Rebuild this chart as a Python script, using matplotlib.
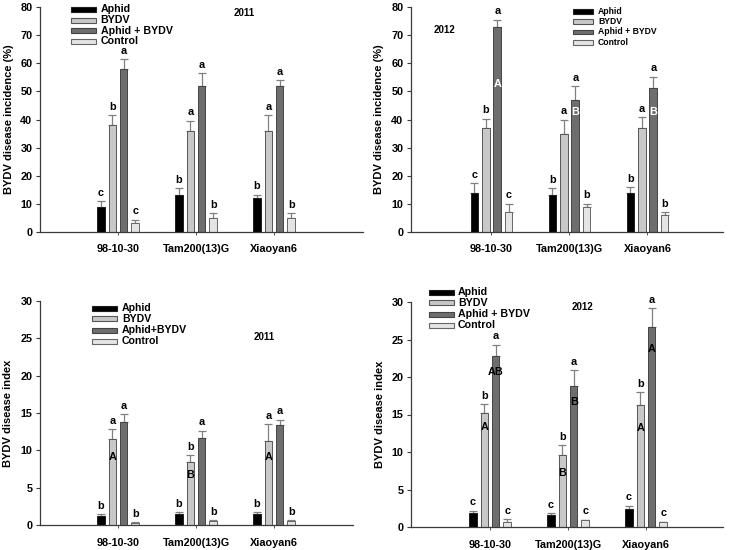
import matplotlib
matplotlib.use('Agg')
import matplotlib.pyplot as plt
from matplotlib.patches import Rectangle
import numpy as np

plt.rcParams['font.family'] = ['Liberation Sans', 'DejaVu Sans']
plt.rcParams['font.weight'] = 'bold'

W, H = 729, 550

cultivars = ['98-10-30', 'Tam200(13)G', 'Xiaoyan6']
treat_legend_a = ['Aphid', 'BYDV', 'Aphid + BYDV', 'Control']
treat_legend_c = ['Aphid', 'BYDV', 'Aphid+BYDV', 'Control']

# rows: Aphid, BYDV, Aphid+BYDV, Control ; columns: cultivars
inc2011_mean = [[9.0, 13.0, 12.1], [38.0, 36.0, 36.0], [58.0, 52.0, 52.0], [3.1, 5.0, 5.0]]
inc2011_top = [[10.9, 15.6, 13.3], [41.5, 39.5, 41.6], [61.4, 56.5, 54.0], [4.3, 6.75, 6.75]]
inc2011_letters = [['c', 'b', 'b'], ['b', 'a', 'a'], ['a', 'a', 'a'], ['c', 'b', 'b']]

inc2012_mean = [[14.0, 13.0, 14.0], [37.1, 35.0, 37.1], [73.0, 47.1, 51.1], [7.0, 9.0, 6.0]]
inc2012_top = [[17.3, 15.6, 15.9], [40.3, 39.9, 40.8], [75.5, 51.9, 55.2], [10.1, 10.1, 7.0]]
inc2012_letters = [['c', 'b', 'b'], ['b', 'a', 'a'], ['a', 'a', 'a'], ['c', 'b', 'b']]

idx2011_mean = [[1.2, 1.43, 1.5], [11.46, 8.4, 11.2], [13.8, 11.7, 13.4], [0.3, 0.58, 0.58]]
idx2011_top = [[1.47, 1.7, 1.74], [12.8, 9.36, 13.5], [14.8, 12.6, 14.1], [0.36, 0.62, 0.62]]
idx2011_letters = [['b', 'b', 'b'], ['a', 'b', 'a'], ['a', 'a', 'a'], ['b', 'b', 'b']]

idx2012_mean = [[1.9, 1.55, 2.35], [15.2, 9.6, 16.3], [22.8, 18.8, 26.7], [0.7, 0.98, 0.62]]
idx2012_top = [[2.2, 1.87, 2.84], [16.4, 10.9, 18.0], [24.3, 20.9, 29.2], [1.07, 1.0, 0.7]]
idx2012_letters = [['c', 'c', 'c'], ['b', 'b', 'b'], ['a', 'a', 'a'], ['c', 'c', 'c']]

# letters written inside bars: (treatment, cultivar, text, y)
inc2012_inner = [(2, 0, 'A', 52.5), (2, 1, 'B', 42.7), (2, 2, 'B', 42.7)]
idx2011_inner = [(1, 0, 'A', 9.1), (1, 1, 'B', 6.7), (1, 2, 'A', 9.1)]
idx2012_inner = [(1, 0, 'A', 13.3), (1, 1, 'B', 7.2), (1, 2, 'A', 13.2),
                 (2, 0, 'AB', 20.7), (2, 1, 'B', 16.7), (2, 2, 'A', 23.7)]

colors = ['#000000', '#c8c8c8', '#6e6e6e', '#e4e4e4']
edges = ['#202020', '#555555', '#444444', '#666666']
AX_COL = '#3a3a3a'
ERR_COL = '#808080'

fig = plt.figure(figsize=(W / 100, H / 100), dpi=100)
fig.patch.set_facecolor('white')


def px_ax(left, right, y0, ytop):
    return fig.add_axes([left / W, 1 - y0 / H, (right - left) / W, (y0 - ytop) / H])


def legend(labels, px, rows, tx, fs, pw=25, ph=5):
    for i, lab in enumerate(labels):
        yc = rows[i]
        fig.add_artist(Rectangle((px / W, 1 - (yc + ph / 2) / H), pw / W, ph / H,
                                 transform=fig.transFigure, facecolor=colors[i],
                                 edgecolor=edges[i], linewidth=0.8))
        fig.text(tx / W, 1 - yc / H, lab, fontsize=fs, fontweight='bold',
                 va='center', ha='left')


panels = [
    dict(box=(40, 363, 232, 7), xlim=(0.0, 4.141), ymax=80, ystep=10,
         mean=inc2011_mean, top=inc2011_top, letters=inc2011_letters, inner=[],
         inner_col='white', ylabel='BYDV disease incidence (%)', labx=-0.082,
         year='2011', yearpos=(244, 13)),
    dict(box=(411, 723, 232, 7), xlim=(-0.032, 3.968), ymax=80, ystep=10,
         mean=inc2012_mean, top=inc2012_top, letters=inc2012_letters, inner=inc2012_inner,
         inner_col='white', ylabel='BYDV disease incidence (%)', labx=-0.088,
         year='2012', yearpos=(444, 30)),
    dict(box=(40, 353, 525, 301), xlim=(0.0, 4.013), ymax=30, ystep=5,
         mean=idx2011_mean, top=idx2011_top, letters=idx2011_letters, inner=idx2011_inner,
         inner_col='black', ylabel='BYDV disease index', labx=-0.085,
         year='2011', yearpos=(264, 337)),
    dict(box=(411, 723, 527, 302), xlim=(-0.0128, 3.987), ymax=30, ystep=5,
         mean=idx2012_mean, top=idx2012_top, letters=idx2012_letters, inner=idx2012_inner,
         inner_col='black', ylabel='BYDV disease index', labx=-0.082,
         year='2012', yearpos=(583, 307)),
]

x = np.arange(1, len(cultivars) + 1)
spacing = 0.147
bw = 0.096

for p in panels:
    ax = px_ax(*p['box'])
    for t in range(4):
        xs = x + (t - 1.5) * spacing
        m = np.array(p['mean'][t])
        tp = np.array(p['top'][t])
        ax.bar(xs, m, width=bw, color=colors[t], edgecolor=edges[t], linewidth=0.7, zorder=2)
        ax.errorbar(xs, m, yerr=[np.zeros_like(m), tp - m], fmt='none', ecolor=ERR_COL,
                    elinewidth=0.9, capsize=2.6, capthick=0.9, zorder=1)
        for j in range(len(cultivars)):
            ax.annotate(p['letters'][t][j], (xs[j], tp[j]), xytext=(0, 2.5),
                        textcoords='offset points', ha='center', va='bottom',
                        fontsize=7.8, fontweight='bold')
    for (t, j, s, yy) in p['inner']:
        ax.text(x[j] + (t - 1.5) * spacing, yy, s, ha='center', va='center',
                fontsize=7.8, fontweight='bold', color=p['inner_col'], zorder=3)
    ax.set_xlim(*p['xlim'])
    ax.set_ylim(0, p['ymax'])
    ax.set_yticks(np.arange(0, p['ymax'] + 0.1, p['ystep']))
    ax.set_xticks(x)
    ax.set_xticklabels(cultivars)
    for s in ['top', 'right']:
        ax.spines[s].set_visible(False)
    for s in ['left', 'bottom']:
        ax.spines[s].set_color(AX_COL)
        ax.spines[s].set_linewidth(0.9)
    ax.tick_params(axis='y', direction='out', length=3, width=0.8, color=AX_COL,
                   labelsize=7.8, pad=2.5)
    ax.tick_params(axis='x', direction='out', length=2, width=0.6, color=AX_COL,
                   labelsize=7.8, pad=7)
    for lab in ax.get_xticklabels() + ax.get_yticklabels():
        lab.set_fontweight('bold')
    ax.set_ylabel(p['ylabel'], fontsize=8, fontweight='bold')
    ax.yaxis.set_label_coords(p['labx'], 0.5)
    ax.patch.set_alpha(0)
    fig.text(p['yearpos'][0] / W, 1 - p['yearpos'][1] / H, p['year'], fontsize=7,
             fontweight='bold', ha='center', va='center')

legend(treat_legend_a, 71, [9.5, 20.2, 30.8, 41.5], 100.5, 7.7)
legend(treat_legend_a, 573, [11.5, 21.5, 32, 42.5], 598, 6.2, pw=20, ph=4.5)
legend(treat_legend_c, 92, [308, 318.5, 330, 341], 122, 7.6)
legend(treat_legend_a, 429, [292, 302.5, 314, 325.5], 458, 7.7)

fig.savefig('out.png', dpi=100, facecolor='white')
